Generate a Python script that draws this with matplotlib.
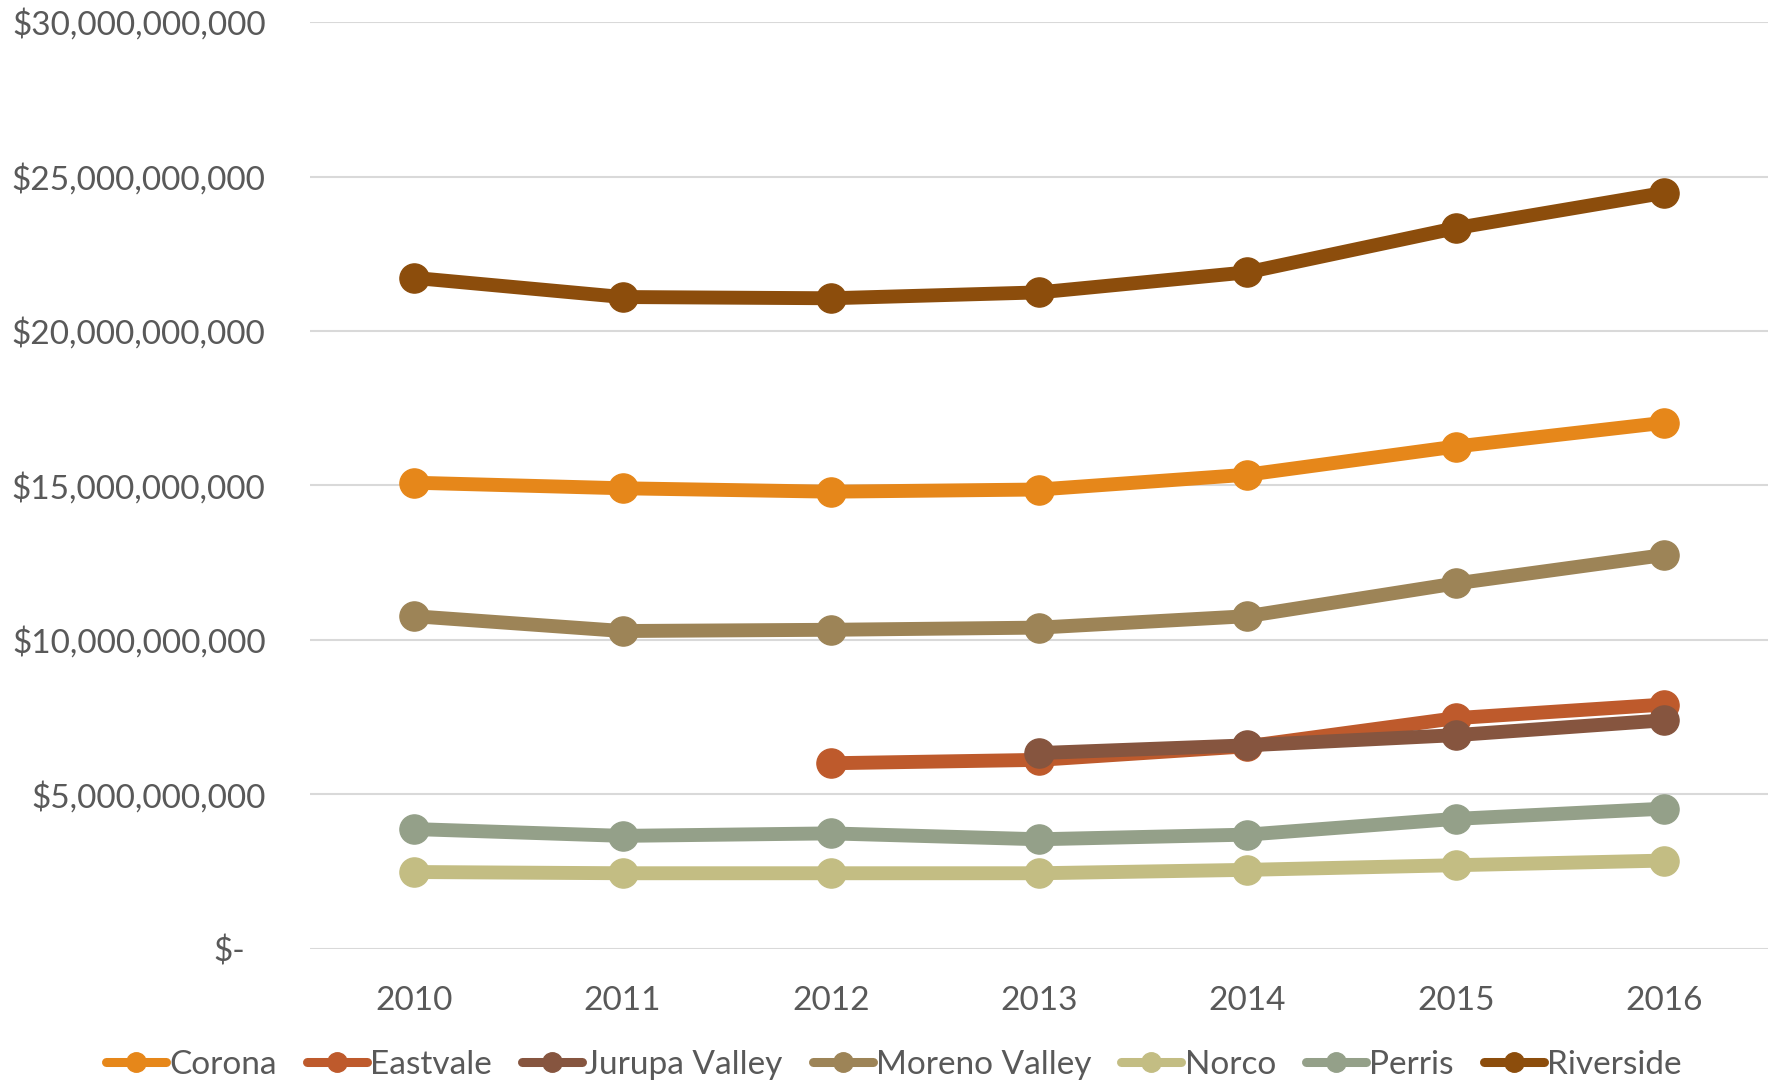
import matplotlib
matplotlib.use("Agg")
import matplotlib.pyplot as plt
import matplotlib.transforms as mtransforms
from matplotlib.lines import Line2D
import numpy as np

plt.rcParams['font.family'] = ['Lato', 'DejaVu Sans']

years = ["2010", "2011", "2012", "2013", "2014", "2015", "2016"]
nan = np.nan
corona = [15.09e9, 14.91e9, 14.80e9, 14.87e9, 15.35e9, 16.26e9, 17.03e9]
eastvale = [nan, nan, 6.01e9, 6.12e9, 6.56e9, 7.47e9, 7.91e9]
jurupa = [nan, nan, nan, 6.34e9, 6.59e9, 6.92e9, 7.40e9]
moreno = [10.77e9, 10.29e9, 10.33e9, 10.40e9, 10.77e9, 11.83e9, 12.75e9]
norco = [2.49e9, 2.45e9, 2.45e9, 2.45e9, 2.56e9, 2.71e9, 2.86e9]
perris = [3.88e9, 3.66e9, 3.74e9, 3.55e9, 3.70e9, 4.21e9, 4.54e9]
riverside = [21.72e9, 21.10e9, 21.06e9, 21.25e9, 21.90e9, 23.33e9, 24.47e9]

series_names = ["Corona", "Eastvale", "Jurupa Valley", "Moreno Valley", "Norco", "Perris", "Riverside"]
series_vals = [corona, eastvale, jurupa, moreno, norco, perris, riverside]
colors = ["#E6871A", "#BE5A2C", "#86553F", "#9D8457", "#C3BD83", "#94A089", "#8C4D0C"]

y_ticks = [0, 5e9, 10e9, 15e9, 20e9, 25e9, 30e9]
y_labels = ["$-", "$5,000,000,000", "$10,000,000,000", "$15,000,000,000",
            "$20,000,000,000", "$25,000,000,000", "$30,000,000,000"]

text_color = "#595959"
grid_color = "#D9D9D9"

fig = plt.figure(figsize=(17.77, 10.86), dpi=100)
ax = fig.add_axes([0.1745, 0.1262, 0.8205, 0.8535])

x = np.arange(len(years))
handles = []
for name, vals, c in zip(series_names, series_vals, colors):
    ax.plot(x, vals, color=c, lw=10, marker="o", markersize=21,
            solid_capstyle="round", solid_joinstyle="round", zorder=3)
    handles.append(Line2D([], [], color=c, lw=6.5, marker="o", markersize=14,
                          solid_capstyle="round"))

ax.set_xlim(-0.5, len(years) - 0.5)
ax.set_ylim(0, 30e9)
ax.set_xticks(x)
ax.set_xticklabels(years)
ax.set_yticks(y_ticks)
ax.set_yticklabels(y_labels)
ax.tick_params(axis="both", length=0, labelsize=24, colors=text_color)
ax.tick_params(axis="x", pad=27)
ax.tick_params(axis="y", pad=32)
for lab in ax.get_yticklabels():
    if lab.get_text() == "$-":
        lab.set_transform(lab.get_transform() +
                          mtransforms.ScaledTranslation(-0.2, 0, fig.dpi_scale_trans))

ax.grid(axis="y", color=grid_color, lw=1.5, zorder=0)
for s in ax.spines.values():
    s.set_visible(False)

leg = fig.legend(handles=handles, labels=series_names, loc="center",
                 bbox_to_anchor=(0.503, 1 - 1065 / 1086), ncol=7, frameon=False,
                 fontsize=24, handlelength=1.8, handletextpad=0.1,
                 columnspacing=0.9, labelcolor=text_color)

fig.savefig("out.png", dpi=100)
